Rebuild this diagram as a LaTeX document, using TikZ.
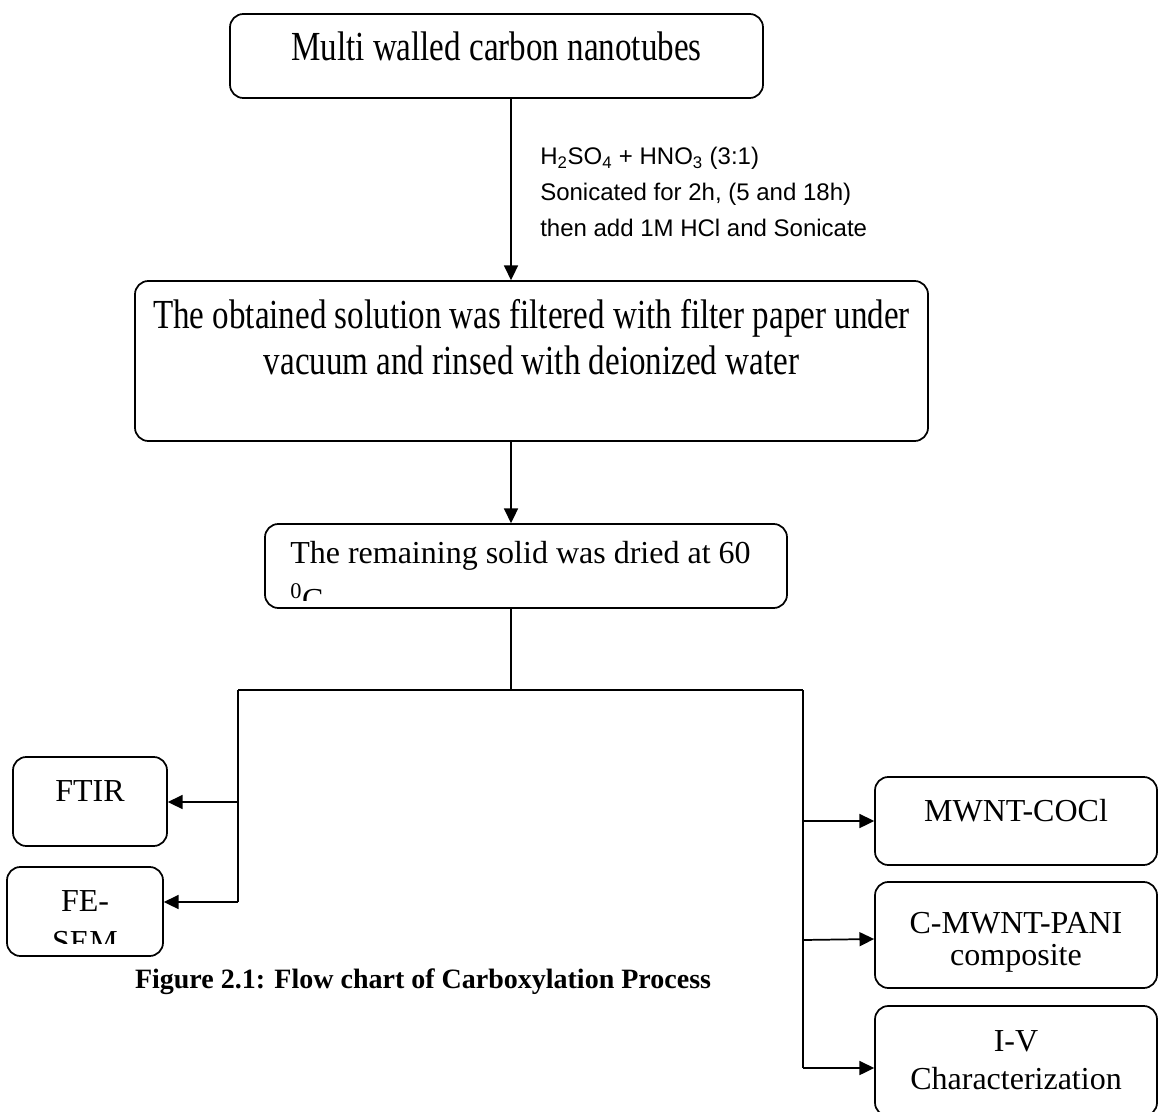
\documentclass[tikz,border=0pt]{standalone}
\usepackage{fontspec}
\setmainfont{Liberation Serif}
\setsansfont{Liberation Sans}
\newfontfamily\narrowserif[FakeStretch=0.8]{Liberation Serif}
\usetikzlibrary{arrows.meta,positioning}

\tikzset{
	stepbox/.style={draw, line width=1.3pt, rounded corners=10pt, inner sep=0pt},
	steptext/.style={inner sep=0pt, font=\fontsize{24}{24}\selectfont},
	widetext/.style={inner sep=0pt, align=center, font=\narrowserif\fontsize{31}{34.5}\selectfont},
	flowline/.style={line width=1.3pt},
	flowarrow/.style={line width=1.3pt, -{Triangle[length=11pt,width=10.5pt]}},
}

\begin{document}
\begin{tikzpicture}[x=0.75pt, y=-0.75pt]
	\useasboundingbox (0,0) rectangle (1159,1112);

	% Main chain
	\node[stepbox, minimum width=399.75pt, minimum height=63pt] (mwcnt) at (496.5,56) {};
	\node[widetext] (mwcnttxt) at (496.5,46) {Multi walled carbon nanotubes};

	\node[stepbox, minimum width=594.75pt, minimum height=120pt] (filter) at (531.5,361) {};
	\node[widetext] (filtertxt) at (531.5,337) {The obtained solution was filtered with filter paper under\\vacuum and rinsed with deionized water};

	\node[stepbox, minimum width=391.5pt, minimum height=63pt] (dry) at (526,566) {};
	\begin{scope}
		\clip (dry.north west) rectangle ([yshift=6pt]dry.south east);
		\node[steptext, anchor=north west, align=left, font=\fontsize{24}{35}\selectfont] (drytxt) at (290,541) {The remaining solid was dried at 60\\\textsuperscript{0}C};
	\end{scope}

	% Acid treatment
	\node[anchor=north west, inner sep=0pt, align=left, font=\sffamily\fontsize{18}{27}\selectfont] (acid) at (540,147)
		{H\textsubscript{2}SO\textsubscript{4} + HNO\textsubscript{3} (3:1)\\Sonicated for 2h, (5 and 18h)\\then add 1M HCl and Sonicate};

	% Left branch
	\node[stepbox, minimum width=115.5pt, minimum height=66.75pt] (ftir) at (90,801.5) {};
	\node[steptext] (ftirtxt) at (90,791) {FTIR};
	\node[stepbox, minimum width=117pt, minimum height=66.75pt] (fesem) at (85,911.5) {};
	\begin{scope}
		\clip (fesem.north west) rectangle ([yshift=10pt]fesem.south east);
		\node[steptext, anchor=north, align=center, font=\fontsize{24}{31}\selectfont] (fesemtxt) at (85,890) {FE-\\SEM};
	\end{scope}

	% Right branch
	\node[stepbox, minimum width=211.5pt, minimum height=66pt] (cocl) at (1016,821) {};
	\node[steptext] (cocltxt) at (1016,811) {MWNT-COCl};
	\node[stepbox, minimum width=211.5pt, minimum height=79.5pt] (pani) at (1016,935) {};
	\node[steptext, anchor=north, align=center] (panitxt) at (1016,912) {C-MWNT-PANI\\composite};
	\node[stepbox, minimum width=211.5pt, minimum height=82.5pt] (iv) at (1016,1061) {};
	\node[steptext, anchor=north, align=center, font=\fontsize{24}{28.5}\selectfont] (ivtxt) at (1016,1030) {I-V\\Characterization};

	% Caption
	\node[inner sep=0pt, font=\bfseries\fontsize{21}{25}\selectfont] (caption) at (423,982) {Figure 2.1: Flow chart of Carboxylation Process};

	% Junctions
	\coordinate (split) at (511,690);
	\coordinate (lsplit) at (238,690);
	\coordinate (rsplit) at (803,690);
	\coordinate (ftirjoin) at (238,802);
	\coordinate (fesemjoin) at (238,902);
	\coordinate (cocljoin) at (803,821);
	\coordinate (panijoin) at (803,940);
	\coordinate (ivjoin) at (803,1068);

	% Connectors
	\draw[flowarrow] (mwcnt.south -| split) -- (filter.north -| split);
	\draw[flowarrow] (filter.south -| split) -- (dry.north -| split);
	\draw[flowline] (dry.south -| split) -- (split);
	\draw[flowline] (lsplit) -- (rsplit);
	\draw[flowline] (lsplit) -- (fesemjoin);
	\draw[flowline] (rsplit) -- (ivjoin);
	\draw[flowarrow] (ftirjoin) -- (ftirjoin -| ftir.east);
	\draw[flowarrow] (fesemjoin) -- (fesemjoin -| fesem.east);
	\draw[flowarrow] (cocljoin) -- (cocljoin -| cocl.west);
	\draw[flowarrow] (panijoin) -- ([yshift=-3pt]pani.west);
	\draw[flowarrow] (ivjoin) -- (ivjoin -| iv.west);
\end{tikzpicture}
\end{document}
